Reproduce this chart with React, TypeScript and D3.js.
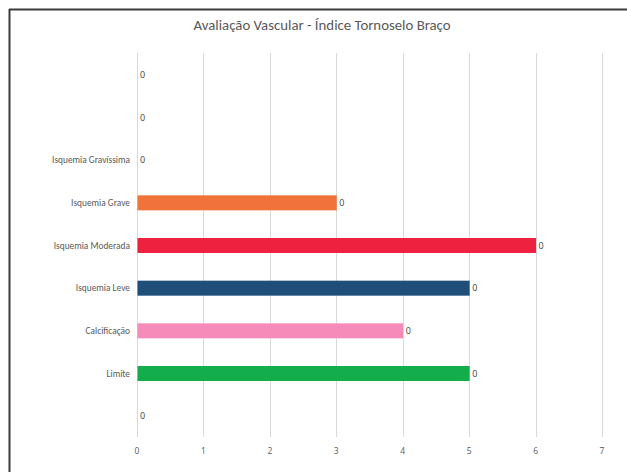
import React from "react";
import * as d3 from "d3";

const categories = ["", "", "Isquemia Gravíssima", "Isquemia Grave", "Isquemia Moderada", "Isquemia Leve", "Calcificação", "Limite", ""];
const values = [0, 0, 0, 3, 6, 5, 4, 5, 0];
const dataLabels = ["0", "0", "0", "0", "0", "0", "0", "0", "0"];
const barColors = ["#ffffff", "#ffffff", "#ffffff", "#F2733A", "#EE213E", "#1F4E79", "#F48BB8", "#13AD4B", "#ffffff"];
const xTicks = [0, 1, 2, 3, 4, 5, 6, 7];
const title = "Avaliação Vascular - Índice Tornoselo Braço";

const W = 627, H = 472;
const left = 137, right = 602, top = 53, bottom = 437;
const font = "Carlito, 'Open Sans', 'Liberation Sans', sans-serif";
const numFont = "'Open Sans', 'Liberation Sans', sans-serif";

export default function App() {
  const x = d3.scaleLinear().domain([0, 7]).range([left, right]);
  const step = (bottom - top) / categories.length;
  const rowCenter = (i: number) => top + step * (i + 0.5);
  return (
    <svg width={W} height={H} style={{ position: "absolute", left: 0, top: 0, background: "#fff" }}>
      <rect x={0} y={0} width={W} height={H} fill="#fff" />
      <line x1={9.5} y1={9} x2={9.5} y2={H} stroke="#3a3a3a" strokeWidth={2} />
      <line x1={9} y1={9.5} x2={W} y2={9.5} stroke="#3a3a3a" strokeWidth={2} />
      <text x={322} y={30} textAnchor="middle" fontFamily={font} fontSize={14.8} fill="#595959">{title}</text>
      {xTicks.map((t) => (
        <g key={t}>
          <line x1={Math.round(x(t)) + 0.5} x2={Math.round(x(t)) + 0.5} y1={top} y2={bottom} stroke="#d9d9d9" strokeWidth={1} />
          <text x={x(t)} y={454} textAnchor="middle" fontFamily={numFont} fontSize={8.5} fill="#595959">{t}</text>
        </g>
      ))}
      {categories.map((c, i) => {
        const cy = rowCenter(i);
        const bh = 15;
        const by = cy - bh / 2 + 0.5;
        return (
          <g key={i}>
            {values[i] > 0 && (
              <rect x={x(0) + 0.5} y={by} width={x(values[i]) - x(0)} height={bh} fill={barColors[i]} />
            )}
            <text x={x(values[i]) + 3} y={cy + 3.5} fontFamily={numFont} fontSize={9} fill="#404040">{dataLabels[i]}</text>
            {c && (
              <text x={130} y={cy + 3.5} textAnchor="end" fontFamily={font} fontSize={9.4} fill="#595959">{c}</text>
            )}
          </g>
        );
      })}
    </svg>
  );
}
